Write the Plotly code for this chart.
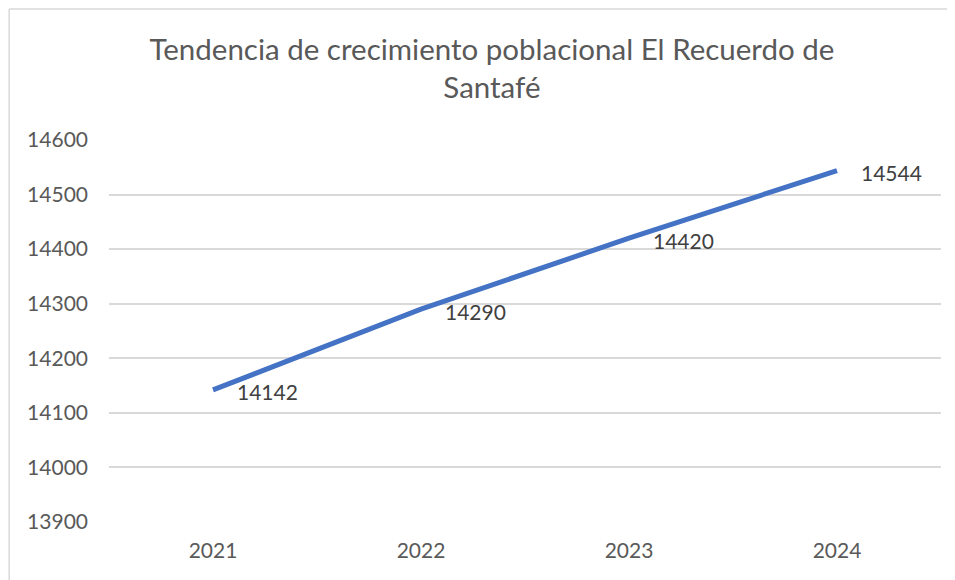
import plotly.graph_objects as go

years = ["2021", "2022", "2023", "2024"]
poblacion = [14142, 14290, 14420, 14544]
y_ticks = [13900, 14000, 14100, 14200, 14300, 14400, 14500, 14600]

fig = go.Figure()
fig.add_trace(go.Scatter(x=years, y=poblacion, mode="lines",
                         line=dict(color="#4472C4", width=5), showlegend=False))

# etiquetas de datos a la derecha de cada punto
for i, val in enumerate(poblacion):
    fig.add_annotation(x=i, y=val, text=str(val), showarrow=False,
                       xanchor="left", yanchor="middle", xshift=22, yshift=-2,
                       font=dict(family="Lato, sans-serif", size=21, color="#404040"))

# marco del grafico: solo borde superior e izquierdo visibles
marco = dict(color="#D9D9D9", width=1.5)
fig.add_shape(type="line", xref="paper", yref="paper", x0=-0.12, x1=1.2, y0=1.343, y1=1.343,
              line=marco, layer="below")
fig.add_shape(type="line", xref="paper", yref="paper", x0=-0.12, x1=-0.12, y0=-0.3, y1=1.343,
              line=marco, layer="below")

fig.update_layout(
    width=947, height=572,
    margin=dict(l=101, r=14, t=132, b=58),
    paper_bgcolor="white", plot_bgcolor="white",
    title=dict(text="Tendencia de crecimiento poblacional El Recuerdo de<br>Santafé",
               x=0.511, xanchor="center", y=0.909, yanchor="middle",
               font=dict(family="Lato, sans-serif", size=29.5, color="#595959")),
    font=dict(family="Lato, sans-serif", size=21, color="#595959"),
    xaxis=dict(type="category", showgrid=False, showline=False, ticks="",
               range=[-0.5, 3.5], ticklabelstandoff=14,
               tickfont=dict(size=21, color="#595959")),
    yaxis=dict(range=[13900, 14600], tickvals=y_ticks, tickformat="d", showgrid=True,
               gridcolor="#D9D9D9", gridwidth=1.5, zeroline=False, showline=False,
               ticks="", ticklabelstandoff=20, tickfont=dict(size=21, color="#595959")),
)

fig.write_html("out.html")
